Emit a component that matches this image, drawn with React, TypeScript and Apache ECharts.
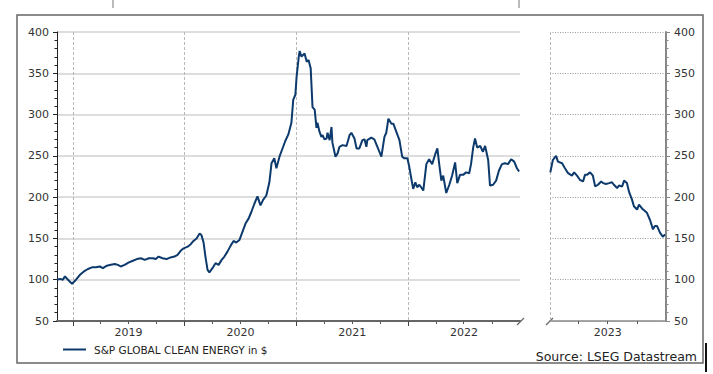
import React, { useEffect, useRef } from "react";
import * as echarts from "echarts";

const seriesName = "S&P GLOBAL CLEAN ENERGY in $";
const sourceText = "Source: LSEG Datastream";

const leftDates = [
  "2018-11-10","2018-11-20","2018-11-29","2018-12-06","2018-12-16","2018-12-29",
  "2019-01-11","2019-01-24","2019-02-06","2019-02-19","2019-03-04","2019-03-17","2019-03-30","2019-04-09","2019-04-22","2019-05-05","2019-05-18","2019-05-28","2019-06-06","2019-06-19","2019-07-03","2019-07-16","2019-07-29","2019-08-11","2019-08-24","2019-09-06","2019-09-19","2019-09-29","2019-10-08","2019-10-21","2019-11-03","2019-11-16","2019-11-29","2019-12-09","2019-12-19","2019-12-29",
  "2020-01-11","2020-01-21","2020-01-30","2020-02-09","2020-02-19","2020-02-25","2020-03-03","2020-03-09","2020-03-16","2020-03-22","2020-04-01","2020-04-11","2020-04-21","2020-05-01","2020-05-10","2020-05-20","2020-05-30","2020-06-09","2020-06-18","2020-06-28","2020-07-08","2020-07-18","2020-07-28","2020-08-06","2020-08-16","2020-08-26","2020-09-05","2020-09-14","2020-09-24","2020-10-04","2020-10-11","2020-10-20","2020-10-27","2020-11-06","2020-11-15","2020-11-25","2020-12-05","2020-12-15","2020-12-21","2020-12-28",
  "2021-01-01","2021-01-08","2021-01-11","2021-01-17","2021-01-21","2021-01-27","2021-02-03","2021-02-09","2021-02-16","2021-02-22","2021-03-01","2021-03-07","2021-03-10","2021-03-17","2021-03-23","2021-03-27","2021-04-02","2021-04-09","2021-04-12","2021-04-19","2021-04-25","2021-04-28","2021-05-08","2021-05-15","2021-05-21","2021-05-31","2021-06-13","2021-06-23","2021-06-29","2021-07-09","2021-07-16","2021-07-25","2021-08-04","2021-08-11","2021-08-17","2021-08-20","2021-09-02","2021-09-12","2021-09-22","2021-10-05","2021-10-15","2021-10-21","2021-10-28","2021-11-07","2021-11-13","2021-11-23","2021-12-03","2021-12-12","2021-12-19","2021-12-29",
  "2022-01-04","2022-01-11","2022-01-17","2022-01-24","2022-01-30","2022-02-06","2022-02-12","2022-02-19","2022-03-01","2022-03-10","2022-03-20","2022-03-30","2022-04-06","2022-04-12","2022-04-19","2022-04-25","2022-05-05","2022-05-15","2022-05-24","2022-06-03","2022-06-10","2022-06-19","2022-06-29","2022-07-09","2022-07-19","2022-07-25","2022-08-01","2022-08-07","2022-08-14","2022-08-24","2022-09-02","2022-09-09","2022-09-19","2022-09-25","2022-10-05","2022-10-15","2022-10-24","2022-11-03","2022-11-13","2022-11-23","2022-12-03","2022-12-13","2022-12-22","2022-12-29"
];
const leftValues = [
  100,101,100,104,100,95,
  100,106,110,113,115,115,116,114,117,118,119,118,116,118,121,123,125,126,124,126,126,125,128,126,125,127,128,130,135,138,
  140,143,147,150,156,154,145,128,112,109,114,120,118,124,128,134,141,147,145,148,158,168,174,182,192,201,190,197,202,218,241,247,235,249,258,268,276,290,318,324,
  346,370,377,370,372,374,364,366,356,309,306,284,290,279,273,275,270,271,278,269,285,266,249,253,261,263,262,275,278,271,259,259,269,270,261,269,272,270,261,249,273,278,295,289,289,279,269,249,247,247,
  237,222,210,218,212,215,212,208,240,246,240,252,259,240,220,226,205,215,226,242,217,227,227,230,229,240,260,271,260,262,255,262,245,214,215,220,232,240,241,240,246,243,235,231
];

const rightDates = [
  "2023-01-02","2023-01-10","2023-01-20","2023-01-26","2023-02-08","2023-02-17","2023-02-27","2023-03-11","2023-03-18","2023-03-27","2023-04-05","2023-04-15","2023-04-21","2023-04-27","2023-05-07","2023-05-16","2023-05-23","2023-06-01","2023-06-11","2023-06-17","2023-06-26","2023-07-06","2023-07-15","2023-07-21","2023-07-31","2023-08-06","2023-08-16","2023-08-22","2023-08-31","2023-09-07","2023-09-16","2023-09-22","2023-10-02","2023-10-08","2023-10-18","2023-10-24","2023-11-02","2023-11-12","2023-11-21","2023-11-27","2023-12-04","2023-12-13","2023-12-22","2023-12-29"
];
const rightValues = [
  230,245,250,243,241,235,229,226,230,226,221,219,227,227,230,226,213,215,219,217,216,217,218,215,211,214,213,220,217,206,197,189,185,191,186,184,181,172,161,165,165,157,152,155
];

const leftRange = ["2018-11-10", "2023-01-01"];
const rightRange = ["2023-01-01", "2024-01-01"];
const leftYearStarts = ["2019-01-01", "2020-01-01", "2021-01-01", "2022-01-01"];
const leftYearLabels = ["2019-07-02", "2020-07-02", "2021-07-02", "2022-07-02"];
const leftQuarterTicks = [
  "2019-04-01","2019-07-01","2019-10-01",
  "2020-04-01","2020-07-01","2020-10-01",
  "2021-04-01","2021-07-01","2021-10-01",
  "2022-04-01","2022-07-01","2022-10-01"
];
const rightYearStarts = ["2023-01-01"];
const rightYearLabels = ["2023-07-02"];
const rightQuarterTicks = ["2023-04-01", "2023-07-01", "2023-10-01"];
const yMin = 50;
const yMax = 400;
const yStep = 50;

const FONT = "DejaVu Sans";
const LINE = "#0d3a6c";

const ts = (d: string) => Date.parse(d + "T00:00:00Z");

export default function App() {
  const ref = useRef<HTMLDivElement>(null);
  useEffect(() => {
    document.body.style.margin = "0";
    const chart = echarts.init(ref.current!, null, { renderer: "svg" });
    const yearFmt = (v: number) => String(new Date(v).getUTCFullYear());
    const yAxisBase = (grid: number, pos: string, lineColor: string, lineWidth: number, split: any) => ({
      type: "value",
      gridIndex: grid,
      position: pos,
      min: yMin,
      max: yMax,
      interval: yStep,
      axisLine: { show: true, onZero: false, lineStyle: { color: lineColor, width: lineWidth } },
      axisTick: { show: true, length: 4, lineStyle: { color: lineColor } },
      minorTick: { show: true, splitNumber: 5, length: 2.5, lineStyle: { color: lineColor } },
      axisLabel: { fontFamily: FONT, fontSize: 11, color: "#333", margin: 8 },
      splitLine: split,
    });
    const xPair = (grid: number, range: string[], quarters: string[], starts: string[], labels: string[], lineColor: string, lineWidth: number, startTick: boolean) => [
      {
        type: "value", gridIndex: grid, position: "bottom", min: ts(range[0]), max: ts(range[1]),
        axisLine: { show: true, onZero: false, lineStyle: { color: lineColor, width: lineWidth } },
        axisTick: { show: true, customValues: quarters.map(ts), length: 3, lineStyle: { color: "#555" } },
        axisLabel: { customValues: labels.map(ts), formatter: yearFmt, fontFamily: FONT, fontSize: 11, color: "#333", margin: 6 },
        splitLine: { show: false },
      },
      {
        type: "value", gridIndex: grid, position: "bottom", min: ts(range[0]), max: ts(range[1]),
        axisLine: { show: false, onZero: false },
        axisTick: { show: startTick, customValues: starts.map(ts), length: 5, lineStyle: { color: "#444" } },
        axisLabel: { show: false },
        splitLine: { show: true, lineStyle: { color: "#b8b8b8", type: [3, 2], width: 1 } },
      },
    ];
    chart.setOption({
      animation: false,
      backgroundColor: "#fff",
      grid: [
        { left: 57, top: 32, width: 463, height: 289 },
        { left: 550, top: 32, width: 116, height: 289 },
      ],
      xAxis: [
        ...xPair(0, leftRange, leftQuarterTicks, leftYearStarts, leftYearLabels, "#666", 2, true),
        ...xPair(1, rightRange, rightQuarterTicks, rightYearStarts, rightYearLabels, "#8a8a8a", 1.5, false),
      ],
      yAxis: [
        yAxisBase(0, "left", "#222", 1, { show: true, lineStyle: { color: "#d2d2d2", width: 1.5 } }),
        yAxisBase(1, "right", "#888", 2, { show: true, lineStyle: { color: "#9a9a9a", type: [1, 1.5], width: 1 } }),
      ],
      legend: {
        data: [seriesName],
        left: 58,
        top: 339,
        icon: "rect",
        itemWidth: 23,
        itemHeight: 2,
        itemGap: 10,
        textStyle: { fontFamily: FONT, fontSize: 10.5, color: "#222", padding: [0, 0, 0, 3] },
      },
      series: [
        {
          name: seriesName, type: "line", xAxisIndex: 0, yAxisIndex: 0, showSymbol: false, symbol: "none",
          lineStyle: { color: LINE, width: 2 }, itemStyle: { color: LINE },
          data: leftDates.map((d, i) => [ts(d), leftValues[i]]),
        },
        {
          name: seriesName, type: "line", xAxisIndex: 2, yAxisIndex: 1, showSymbol: false, symbol: "none",
          lineStyle: { color: LINE, width: 2 }, itemStyle: { color: LINE },
          data: rightDates.map((d, i) => [ts(d), rightValues[i]]),
        },
      ],
      graphic: [
        { type: "rect", shape: { x: 17, y: 15, width: 686, height: 348 }, style: { fill: "none", stroke: "#666", lineWidth: 1.5 }, silent: true },
        { type: "line", shape: { x1: 113, y1: 0, x2: 113, y2: 8 }, style: { stroke: "#777", lineWidth: 1 } },
        { type: "line", shape: { x1: 519, y1: 0, x2: 519, y2: 8 }, style: { stroke: "#777", lineWidth: 1 } },
        { type: "line", shape: { x1: 517, y1: 325, x2: 524, y2: 318 }, style: { stroke: "#666", lineWidth: 1.2 } },
        { type: "line", shape: { x1: 546, y1: 325, x2: 553, y2: 318 }, style: { stroke: "#666", lineWidth: 1.2 } },
        { type: "rect", shape: { x: 705, y: 343, width: 2, height: 29 }, style: { fill: "#111" } },
        {
          type: "text", x: 697, y: 356,
          style: { text: sourceText, fontFamily: FONT, fontSize: 12.5, fill: "#222", align: "right", verticalAlign: "middle" },
        },
      ],
    });
    return () => chart.dispose();
  }, []);
  return <div ref={ref} style={{ width: 713, height: 374 }} />;
}
